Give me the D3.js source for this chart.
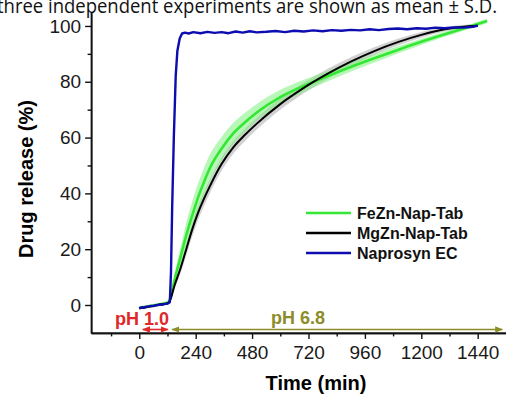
<!DOCTYPE html>
<html><head><meta charset="utf-8">
<script src="https://cdn.jsdelivr.net/npm/d3@7"></script>
<style>body{margin:0;background:#fff}svg{display:block}</style>
</head><body>
<script>
// ---- data ----
const caption = "three independent experiments are shown as mean ± S.D.";
const xTicks = [0,240,480,720,960,1200,1440];
const xMinor = [-120,120,360,600,840,1080,1320];
const yTicks = [0,20,40,60,80,100];
const yMinor = [10,30,50,70,90];

const seriesNames = ["FeZn-Nap-Tab","MgZn-Nap-Tab","Naprosyn EC"];
const seriesColors = ["#33e833","#000000","#0c0cb0"];

const blueT = [0,10,20,30,40,50,60,70,80,90,100,110,120,130,135,140,147,155,162,172,182,195,210,230,260,290,320,350,380,410,440,470,500,540,580,620,660,700,740,780,820,860,900,940,980,1020,1060,1100,1140,1180,1220,1260,1300,1340,1380,1420,1440];
const blueV = [-1.2,-0.8,-1,-0.6,-0.5,-0.3,-0.4,-0.1,0,0.2,0.1,0.4,0.5,1,12,35,60,82,91,95.5,97.3,97.6,97.3,97.8,97.4,97.9,97.5,97.8,97.4,98,97.6,98.1,97.7,97.9,98.2,97.8,98.3,98,98.4,98.1,98.5,98.3,98.6,98.4,98.8,98.5,98.9,99.1,98.8,99.2,99,99.4,99.2,99.5,99.4,99.7,100.1];

const blackT = [0,30,60,90,120,130,150,175,200,225,250,275,300,350,400,450,500,600,700,800,900,1000,1100,1200,1300,1400,1440];
const blackV = [-1.2,-0.8,-0.3,0.2,0.6,1.5,7,13,20,27,33,38,42.5,50.5,56.5,61,65,72,77.8,82.8,87.2,91,94.2,96.8,98.8,99.9,100.1];
const blackSD = [0.4,0.4,0.4,0.4,0.4,0.6,1.2,1.8,2.2,2.5,2.6,2.6,2.5,2.4,2.3,2.2,2.1,2,1.9,1.8,1.6,1.4,1.2,1,0.8,0.6,0.6];

const greenT = [0,30,60,90,120,130,150,175,200,225,250,275,300,350,400,450,500,600,700,800,900,1000,1100,1200,1300,1400,1480];
const greenV = [-1,-0.6,-0.2,0.3,0.8,2,9,17,25,32,38.5,44,49,56,61.5,65.5,69,74.5,78.5,82,85.3,88.4,91.4,94.3,97,99.6,101.8];
const greenSD = [0.5,0.5,0.5,0.5,0.5,0.8,2,3.5,4.5,5,5,5,4.8,4.2,3.8,3.4,3,2.6,2.2,1.9,1.7,1.5,1.3,1.1,0.9,0.8,0.8];

const phaseLabels = ["pH 1.0","pH 6.8"];
const phaseStart = [15,140];
const phaseEnd = [122,1545];
const phaseColors = ["#e02828","#8c8c28"];

// ---- layout ----
const W = 506, H = 397;
const FONT = "Arial, 'Liberation Sans', Helvetica, sans-serif";
const svg = d3.select("body").append("svg").attr("width",W).attr("height",H)
  .attr("font-family",FONT);

const x = d3.scaleLinear().domain([-205,1560]).range([91.1,505.9]);
const y = d3.scaleLinear().domain([-10,105]).range([332.9,12]);

// caption (cropped at top)
svg.append("text").attr("x",-3).attr("y",13)
  .attr("textLength",500).attr("lengthAdjust","spacingAndGlyphs")
  .attr("font-family","'Open Sans', sans-serif").attr("font-size",20).attr("fill","#111")
  .text(caption);

// error bands
function band(T,V,SD,color,op){
  const pts = T.map((t,i)=>({t,v:V[i],s:SD[i]}));
  svg.append("path").datum(pts)
    .attr("d",d3.area().x(d=>x(d.t)).y0(d=>y(d.v-d.s)).y1(d=>y(d.v+d.s)).curve(d3.curveMonotoneX))
    .attr("fill",color).attr("opacity",op);
}
band(blackT,blackV,blackSD,"#999",0.45);
band(greenT,greenV,greenSD,"#7ef07e",0.55);

function line(T,V,color,w,curve){
  const pts = T.map((t,i)=>({t,v:V[i]}));
  svg.append("path").datum(pts)
    .attr("d",d3.line().x(d=>x(d.t)).y(d=>y(d.v)).curve(curve))
    .attr("fill","none").attr("stroke",color).attr("stroke-width",w)
    .attr("stroke-linejoin","round");
}
line(greenT,greenV,seriesColors[0],2.6,d3.curveMonotoneX);
line(blackT,blackV,seriesColors[1],2,d3.curveMonotoneX);
line(blueT,blueV,seriesColors[2],2.4,d3.curveLinear);

// axes
const fmt = d3.format("d");
const xAxis = svg.append("g").attr("transform",`translate(0,${y(-10)})`)
  .call(d3.axisBottom(x).tickValues(xTicks).tickFormat(fmt).tickSize(6).tickSizeOuter(0).tickPadding(7));
const xMin = svg.append("g").attr("transform",`translate(0,${y(-10)})`)
  .call(d3.axisBottom(x).tickValues(xMinor).tickSize(3.5).tickSizeOuter(0).tickFormat(""));
const yAxis = svg.append("g").attr("transform",`translate(${x(-205)},0)`)
  .call(d3.axisLeft(y).tickValues(yTicks).tickFormat(fmt).tickSize(6).tickSizeOuter(0).tickPadding(4));
const yMin = svg.append("g").attr("transform",`translate(${x(-205)},0)`)
  .call(d3.axisLeft(y).tickValues(yMinor).tickSize(3.5).tickSizeOuter(0).tickFormat(""));
[xAxis,xMin,yAxis,yMin].forEach(g=>{
  g.attr("font-family",FONT).attr("font-size",19);
  g.selectAll("path").attr("stroke","#111").attr("stroke-width",1.6);
  g.selectAll("line").attr("stroke","#111").attr("stroke-width",1.4);
  g.selectAll("text").attr("fill","#1a1a1a");
});

// axis titles
svg.append("text").attr("x",316).attr("y",390).attr("text-anchor","middle")
  .attr("font-size",20).attr("font-weight","bold").text("Time (min)");
svg.append("text").attr("transform","translate(33,179) rotate(-90)").attr("text-anchor","middle")
  .attr("font-size",20).attr("font-weight","bold").text("Drug release (%)");

// phase annotations
const defs = svg.append("defs");
phaseColors.forEach((c,i)=>{
  defs.append("marker").attr("id","ah"+i).attr("viewBox","0 0 10 10").attr("refX",9).attr("refY",5)
    .attr("markerWidth",5).attr("markerHeight",5).attr("orient","auto-start-reverse")
    .append("path").attr("d","M0,1 L10,5 L0,9 z").attr("fill",c);
});
phaseLabels.forEach((lab,i)=>{
  svg.append("line").attr("x1",x(phaseStart[i])).attr("x2",x(phaseEnd[i]))
    .attr("y1",329.5).attr("y2",329.5).attr("stroke",phaseColors[i]).attr("stroke-width",1.6)
    .attr("marker-start",`url(#ah${i})`).attr("marker-end",`url(#ah${i})`);
});
svg.append("text").attr("x",115).attr("y",325).attr("font-size",18).attr("font-weight","bold")
  .attr("fill",phaseColors[0]).text(phaseLabels[0]);
svg.append("text").attr("x",298).attr("y",324).attr("text-anchor","middle").attr("font-size",18).attr("font-weight","bold")
  .attr("fill",phaseColors[1]).text(phaseLabels[1]);

// legend
seriesNames.forEach((n,i)=>{
  const yy = 213 + i*20;
  svg.append("line").attr("x1",306).attr("x2",351).attr("y1",yy).attr("y2",yy)
    .attr("stroke",seriesColors[i]).attr("stroke-width",2.6);
  svg.append("text").attr("x",357).attr("y",yy+5.5).attr("font-size",16).attr("font-weight","bold")
    .attr("fill","#111").text(n);
});
</script>
</body></html>
